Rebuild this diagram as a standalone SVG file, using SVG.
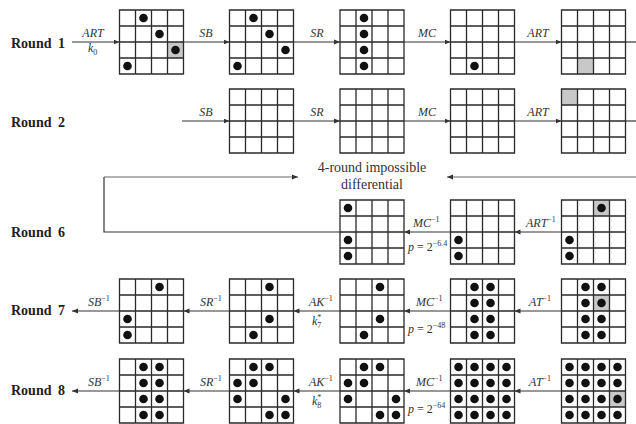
<svg xmlns="http://www.w3.org/2000/svg" xmlns:xlink="http://www.w3.org/1999/xlink" width="636" height="424" viewBox="0 0 636 424">
<style>
.bg{fill:#fff}
.gl{fill:none;stroke:#2a2a2a;stroke-width:1.3}
.gray{fill:#c8c8c8}
.dot{fill:#111}
.con{fill:none;stroke:#333;stroke-width:1.2}
.fb{fill:none;stroke:#666;stroke-width:1.2}
.rd{font-family:"Liberation Serif",serif;font-weight:bold;font-size:14px;fill:#222;word-spacing:3px}
.it{font-family:"Liberation Serif",serif;font-style:italic;font-size:12px;fill:#333}
.rg{font-family:"Liberation Serif",serif;font-size:12px;fill:#333}
.cap{font-family:"Liberation Serif",serif;font-size:14px;fill:#333}
.sm{font-size:8px;font-style:normal}
</style>
<defs>
<path id="grid" class="gl" d="M0 0H64V64H0Z M16 0V64 M32 0V64 M48 0V64 M0 16H64 M0 32H64 M0 48H64"/>
<marker id="ah" markerUnits="userSpaceOnUse" markerWidth="6" markerHeight="6" refX="6" refY="3" orient="auto">
<path d="M0,0.5 L6,3 L0,5.5 Z" fill="#333"/>
</marker>
</defs>
<rect class="bg" width="636" height="424"/>

<g id="connectors">
<line class="con" x1="72" y1="42" x2="119.5" y2="42" marker-end="url(#ah)"/>
<line class="con" x1="183.5" y1="42" x2="229.5" y2="42" marker-end="url(#ah)"/>
<line class="con" x1="293.5" y1="42" x2="340" y2="42" marker-end="url(#ah)"/>
<line class="con" x1="404" y1="42" x2="450.5" y2="42" marker-end="url(#ah)"/>
<line class="con" x1="514.5" y1="42" x2="561.5" y2="42" marker-end="url(#ah)"/>
<line class="con" x1="625.5" y1="42" x2="636" y2="42"/>

<line class="con" x1="182" y1="121" x2="229.5" y2="121" marker-end="url(#ah)"/>
<line class="con" x1="293.5" y1="121" x2="340" y2="121" marker-end="url(#ah)"/>
<line class="con" x1="404" y1="121" x2="450.5" y2="121" marker-end="url(#ah)"/>
<line class="con" x1="514.5" y1="121" x2="561.5" y2="121" marker-end="url(#ah)"/>
<line class="con" x1="625.5" y1="121" x2="636" y2="121"/>

<polyline class="con" points="340,232 104,232 104,177"/>
<line class="fb" x1="104" y1="177" x2="298" y2="177" marker-end="url(#ah)"/>
<line class="fb" x1="636" y1="177" x2="447" y2="177" marker-end="url(#ah)"/>
<line class="con" x1="450.5" y1="232" x2="404" y2="232" marker-end="url(#ah)"/>
<line class="con" x1="561.5" y1="232" x2="514.5" y2="232" marker-end="url(#ah)"/>

<line class="con" x1="119.5" y1="311" x2="72" y2="311" marker-end="url(#ah)"/>
<line class="con" x1="229.5" y1="311" x2="183.5" y2="311" marker-end="url(#ah)"/>
<line class="con" x1="340" y1="311" x2="293.5" y2="311" marker-end="url(#ah)"/>
<line class="con" x1="450.5" y1="311" x2="404" y2="311" marker-end="url(#ah)"/>
<line class="con" x1="561.5" y1="311" x2="514.5" y2="311" marker-end="url(#ah)"/>

<line class="con" x1="119.5" y1="391" x2="72" y2="391" marker-end="url(#ah)"/>
<line class="con" x1="229.5" y1="391" x2="183.5" y2="391" marker-end="url(#ah)"/>
<line class="con" x1="340" y1="391" x2="293.5" y2="391" marker-end="url(#ah)"/>
<line class="con" x1="450.5" y1="391" x2="404" y2="391" marker-end="url(#ah)"/>
<line class="con" x1="561.5" y1="391" x2="514.5" y2="391" marker-end="url(#ah)"/>
</g>

<g id="labels">
<text class="rd" x="11" y="48">Round 1</text>
<text class="rd" x="11" y="127">Round 2</text>
<text class="rd" x="11" y="237">Round 6</text>
<text class="rd" x="11" y="315">Round 7</text>
<text class="rd" x="11" y="395">Round 8</text>

<text class="it" x="93" y="37" text-anchor="middle">ART</text>
<text class="it" x="88" y="52">k<tspan class="sm" dy="3">0</tspan></text>
<text class="it" x="206" y="37" text-anchor="middle">SB</text>
<text class="it" x="317" y="37" text-anchor="middle">SR</text>
<text class="it" x="427" y="37" text-anchor="middle">MC</text>
<text class="it" x="538" y="37" text-anchor="middle">ART</text>

<text class="it" x="206" y="116" text-anchor="middle">SB</text>
<text class="it" x="317" y="116" text-anchor="middle">SR</text>
<text class="it" x="427" y="116" text-anchor="middle">MC</text>
<text class="it" x="538" y="116" text-anchor="middle">ART</text>

<text class="cap" x="372" y="172" text-anchor="middle">4-round impossible</text>
<text class="cap" x="372" y="189" text-anchor="middle">differential</text>

<text class="it" x="413" y="227">MC<tspan class="sm" dy="-5">−1</tspan></text>
<text class="rg" x="408" y="251"><tspan font-style="italic">p</tspan> = 2<tspan class="sm" dy="-5">−6.4</tspan></text>
<text class="it" x="526" y="227">ART<tspan class="sm" dy="-5">−1</tspan></text>

<text class="it" x="88" y="306">SB<tspan class="sm" dy="-5">−1</tspan></text>
<text class="it" x="200" y="306">SR<tspan class="sm" dy="-5">−1</tspan></text>
<text class="it" x="309" y="306">AK<tspan class="sm" dy="-5">−1</tspan></text>
<text class="it" x="312" y="325">k<tspan class="sm" dy="3">7</tspan><tspan class="sm" dx="-4" dy="-8">*</tspan></text>
<text class="it" x="416" y="306">MC<tspan class="sm" dy="-5">−1</tspan></text>
<text class="rg" x="408" y="333"><tspan font-style="italic">p</tspan> = 2<tspan class="sm" dy="-5">−48</tspan></text>
<text class="it" x="529" y="306">AT<tspan class="sm" dy="-5">−1</tspan></text>

<text class="it" x="88" y="386">SB<tspan class="sm" dy="-5">−1</tspan></text>
<text class="it" x="200" y="386">SR<tspan class="sm" dy="-5">−1</tspan></text>
<text class="it" x="309" y="386">AK<tspan class="sm" dy="-5">−1</tspan></text>
<text class="it" x="312" y="405">k<tspan class="sm" dy="3">8</tspan><tspan class="sm" dx="-4" dy="-8">*</tspan></text>
<text class="it" x="416" y="386">MC<tspan class="sm" dy="-5">−1</tspan></text>
<text class="rg" x="408" y="413"><tspan font-style="italic">p</tspan> = 2<tspan class="sm" dy="-5">−64</tspan></text>
<text class="it" x="529" y="386">AT<tspan class="sm" dy="-5">−1</tspan></text>
</g>

<g id="r1g1" transform="translate(119.5,10)"><rect class="gray" x="48" y="32" width="16" height="16"/><use xlink:href="#grid" href="#grid"/><circle class="dot" cx="24" cy="8" r="4.3"/><circle class="dot" cx="40" cy="24" r="4.3"/><circle class="dot" cx="56" cy="40" r="4.3"/><circle class="dot" cx="8" cy="56" r="4.3"/></g>
<g id="r1g2" transform="translate(229.5,10)"><use href="#grid"/><circle class="dot" cx="24" cy="8" r="4.3"/><circle class="dot" cx="40" cy="24" r="4.3"/><circle class="dot" cx="56" cy="40" r="4.3"/><circle class="dot" cx="8" cy="56" r="4.3"/></g>
<g id="r1g3" transform="translate(340,10)"><use href="#grid"/><circle class="dot" cx="24" cy="8" r="4.3"/><circle class="dot" cx="24" cy="24" r="4.3"/><circle class="dot" cx="24" cy="40" r="4.3"/><circle class="dot" cx="24" cy="56" r="4.3"/></g>
<g id="r1g4" transform="translate(450.5,10)"><use href="#grid"/><circle class="dot" cx="24" cy="56" r="4.3"/></g>
<g id="r1g5" transform="translate(561.5,10)"><rect class="gray" x="16" y="48" width="16" height="16"/><use href="#grid"/></g>

<g id="r2g2" transform="translate(229.5,89)"><use href="#grid"/></g>
<g id="r2g3" transform="translate(340,89)"><use href="#grid"/></g>
<g id="r2g4" transform="translate(450.5,89)"><use href="#grid"/></g>
<g id="r2g5" transform="translate(561.5,89)"><rect class="gray" x="0" y="0" width="16" height="16"/><use href="#grid"/></g>

<g id="r6g1" transform="translate(340,200)"><use href="#grid"/><circle class="dot" cx="8" cy="8" r="4.3"/><circle class="dot" cx="8" cy="40" r="4.3"/><circle class="dot" cx="8" cy="56" r="4.3"/></g>
<g id="r6g2" transform="translate(450.5,200)"><use href="#grid"/><circle class="dot" cx="8" cy="40" r="4.3"/><circle class="dot" cx="8" cy="56" r="4.3"/></g>
<g id="r6g3" transform="translate(561.5,200)"><rect class="gray" x="32" y="0" width="16" height="16"/><use href="#grid"/><circle class="dot" cx="40" cy="8" r="4.3"/><circle class="dot" cx="8" cy="40" r="4.3"/><circle class="dot" cx="8" cy="56" r="4.3"/></g>

<g id="r7g1" transform="translate(119.5,279)"><use href="#grid"/><circle class="dot" cx="40" cy="8" r="4.3"/><circle class="dot" cx="8" cy="40" r="4.3"/><circle class="dot" cx="8" cy="56" r="4.3"/></g>
<g id="r7g2" transform="translate(229.5,279)"><use href="#grid"/><circle class="dot" cx="40" cy="8" r="4.3"/><circle class="dot" cx="40" cy="40" r="4.3"/><circle class="dot" cx="24" cy="56" r="4.3"/></g>
<g id="r7g3" transform="translate(340,279)"><use href="#grid"/><circle class="dot" cx="40" cy="8" r="4.3"/><circle class="dot" cx="40" cy="40" r="4.3"/><circle class="dot" cx="24" cy="56" r="4.3"/></g>
<g id="r7g4" transform="translate(450.5,279)"><use href="#grid"/><circle class="dot" cx="24" cy="8" r="4.3"/><circle class="dot" cx="40" cy="8" r="4.3"/><circle class="dot" cx="24" cy="24" r="4.3"/><circle class="dot" cx="40" cy="24" r="4.3"/><circle class="dot" cx="24" cy="40" r="4.3"/><circle class="dot" cx="40" cy="40" r="4.3"/><circle class="dot" cx="24" cy="56" r="4.3"/><circle class="dot" cx="40" cy="56" r="4.3"/></g>
<g id="r7g5" transform="translate(561.5,279)"><rect class="gray" x="32" y="16" width="16" height="16"/><use href="#grid"/><circle class="dot" cx="24" cy="8" r="4.3"/><circle class="dot" cx="40" cy="8" r="4.3"/><circle class="dot" cx="24" cy="24" r="4.3"/><circle class="dot" cx="40" cy="24" r="4.3"/><circle class="dot" cx="24" cy="40" r="4.3"/><circle class="dot" cx="40" cy="40" r="4.3"/><circle class="dot" cx="24" cy="56" r="4.3"/><circle class="dot" cx="40" cy="56" r="4.3"/></g>

<g id="r8g1" transform="translate(119.5,359)"><use href="#grid"/><circle class="dot" cx="24" cy="8" r="4.3"/><circle class="dot" cx="40" cy="8" r="4.3"/><circle class="dot" cx="24" cy="24" r="4.3"/><circle class="dot" cx="40" cy="24" r="4.3"/><circle class="dot" cx="24" cy="40" r="4.3"/><circle class="dot" cx="40" cy="40" r="4.3"/><circle class="dot" cx="24" cy="56" r="4.3"/><circle class="dot" cx="40" cy="56" r="4.3"/></g>
<g id="r8g2" transform="translate(229.5,359)"><use href="#grid"/><circle class="dot" cx="24" cy="8" r="4.3"/><circle class="dot" cx="40" cy="8" r="4.3"/><circle class="dot" cx="8" cy="24" r="4.3"/><circle class="dot" cx="24" cy="24" r="4.3"/><circle class="dot" cx="8" cy="40" r="4.3"/><circle class="dot" cx="56" cy="40" r="4.3"/><circle class="dot" cx="40" cy="56" r="4.3"/><circle class="dot" cx="56" cy="56" r="4.3"/></g>
<g id="r8g3" transform="translate(340,359)"><use href="#grid"/><circle class="dot" cx="24" cy="8" r="4.3"/><circle class="dot" cx="40" cy="8" r="4.3"/><circle class="dot" cx="8" cy="24" r="4.3"/><circle class="dot" cx="24" cy="24" r="4.3"/><circle class="dot" cx="8" cy="40" r="4.3"/><circle class="dot" cx="56" cy="40" r="4.3"/><circle class="dot" cx="40" cy="56" r="4.3"/><circle class="dot" cx="56" cy="56" r="4.3"/></g>
<g id="r8g4" transform="translate(450.5,359)"><use href="#grid"/>
<circle class="dot" cx="8" cy="8" r="4.3"/><circle class="dot" cx="24" cy="8" r="4.3"/><circle class="dot" cx="40" cy="8" r="4.3"/><circle class="dot" cx="56" cy="8" r="4.3"/>
<circle class="dot" cx="8" cy="24" r="4.3"/><circle class="dot" cx="24" cy="24" r="4.3"/><circle class="dot" cx="40" cy="24" r="4.3"/><circle class="dot" cx="56" cy="24" r="4.3"/>
<circle class="dot" cx="8" cy="40" r="4.3"/><circle class="dot" cx="24" cy="40" r="4.3"/><circle class="dot" cx="40" cy="40" r="4.3"/><circle class="dot" cx="56" cy="40" r="4.3"/>
<circle class="dot" cx="8" cy="56" r="4.3"/><circle class="dot" cx="24" cy="56" r="4.3"/><circle class="dot" cx="40" cy="56" r="4.3"/><circle class="dot" cx="56" cy="56" r="4.3"/></g>
<g id="r8g5" transform="translate(561.5,359)"><rect class="gray" x="48" y="32" width="16" height="16"/><use href="#grid"/>
<circle class="dot" cx="8" cy="8" r="4.3"/><circle class="dot" cx="24" cy="8" r="4.3"/><circle class="dot" cx="40" cy="8" r="4.3"/><circle class="dot" cx="56" cy="8" r="4.3"/>
<circle class="dot" cx="8" cy="24" r="4.3"/><circle class="dot" cx="24" cy="24" r="4.3"/><circle class="dot" cx="40" cy="24" r="4.3"/><circle class="dot" cx="56" cy="24" r="4.3"/>
<circle class="dot" cx="8" cy="40" r="4.3"/><circle class="dot" cx="24" cy="40" r="4.3"/><circle class="dot" cx="40" cy="40" r="4.3"/><circle class="dot" cx="56" cy="40" r="4.3"/>
<circle class="dot" cx="8" cy="56" r="4.3"/><circle class="dot" cx="24" cy="56" r="4.3"/><circle class="dot" cx="40" cy="56" r="4.3"/><circle class="dot" cx="56" cy="56" r="4.3"/></g>
</svg>
